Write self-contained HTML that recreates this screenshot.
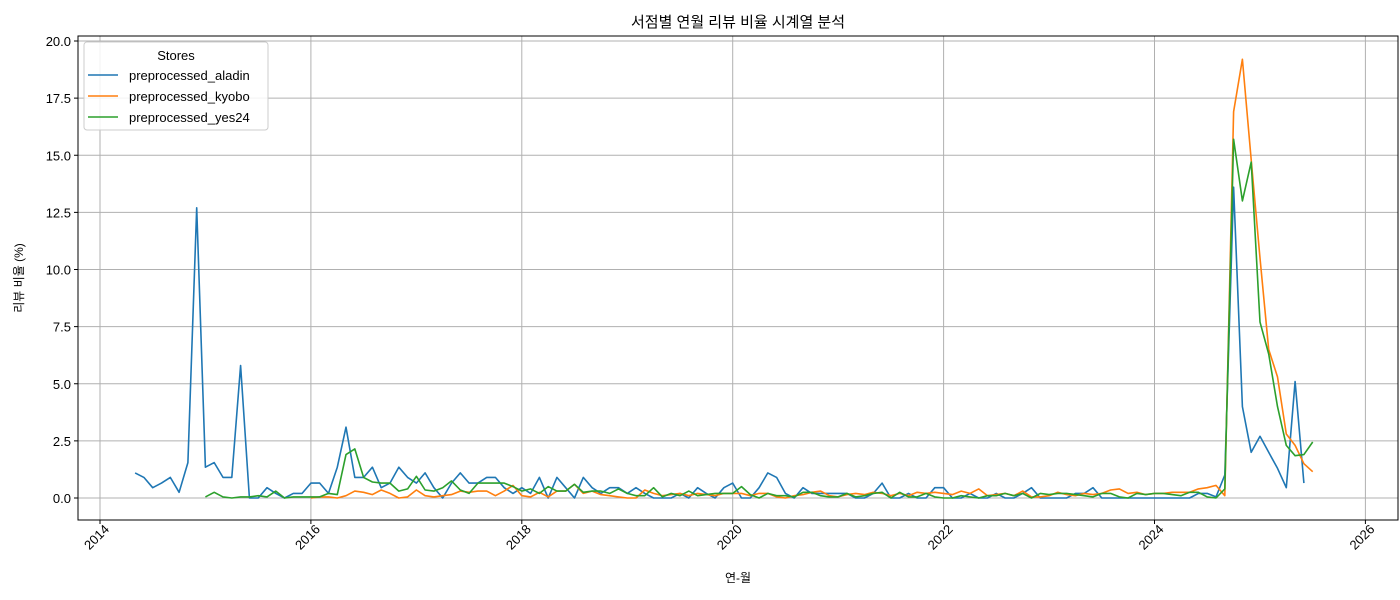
<!DOCTYPE html>
<html><head><meta charset="utf-8">
<style>
html,body{margin:0;padding:0;background:#fff;width:1400px;height:600px;overflow:hidden}
svg{display:block;font-family:"Liberation Sans","Noto Sans CJK KR",sans-serif}
</style></head>
<body>
<svg id="chart" width="1400" height="600"></svg>
<script>
const seriesNames = ["preprocessed_aladin","preprocessed_kyobo","preprocessed_yes24"];
const seriesColors = ["#1f77b4","#ff7f0e","#2ca02c"];
const aladinStart = [2014,4];
const kyoboStart = [2016,0];
const yes24Start = [2015,0];
const aladinValues = [1.1,0.9,0.45,0.65,0.9,0.25,1.55,12.7,1.35,1.55,0.9,0.9,5.8,0,0,0.45,0.2,0,0.2,0.2,
0.65,0.65,0.2,1.35,3.1,0.9,0.9,1.35,0.45,0.65,1.35,0.9,
0.65,1.1,0.45,0,0.65,1.1,0.65,0.65,0.9,0.9,0.45,0.2,
0.45,0.2,0.9,0,0.9,0.45,0,0.9,0.45,0.2,0.45,0.45,
0.2,0.45,0.2,0,0,0,0.2,0,0.45,0.2,0,0.45,
0.65,0,0,0.45,1.1,0.9,0.2,0,0.45,0.2,0.2,0.2,
0.2,0.2,0,0,0.2,0.65,0,0,0.2,0,0,0.45,
0.45,0,0,0.2,0,0,0.2,0,0,0.2,0.45,0,
0,0,0,0.2,0.2,0.45,0,0,0,0,0,0,
0,0,0,0,0,0.2,0.2,0.05,1.0,13.6,4.0,2.0,
2.7,2.0,1.3,0.45,5.1,0.65];
const kyoboValues = [0,0.05,0.05,0,0.1,0.3,0.25,0.15,0.35,0.2,0,0.05,
0.35,0.1,0.05,0.1,0.15,0.3,0.25,0.3,0.3,0.1,0.3,0.55,
0.1,0.05,0.25,0.05,0.3,0.3,0.6,0.2,0.3,0.15,0.1,0.05,
0,0,0.35,0.2,0.1,0.15,0.2,0.1,0.2,0.15,0.1,0.2,
0.2,0.2,0.1,0.2,0.2,0.05,0,0.1,0.15,0.25,0.3,0.1,
0.05,0.15,0.2,0.15,0.25,0.2,0.1,0.2,0.1,0.25,0.2,0.25,
0.2,0.15,0.3,0.2,0.4,0.1,0.15,0.2,0.1,0.3,0.05,0.05,
0.1,0.25,0.15,0.1,0.2,0.15,0.2,0.35,0.4,0.2,0.25,0.15,
0.2,0.2,0.25,0.25,0.25,0.4,0.45,0.55,0.1,
16.9,19.2,14.8,10.5,6.5,5.3,2.8,2.3,1.5,1.15];
const yes24Values = [0.05,0.25,0.05,0,0.05,0.05,0.1,0.05,0.3,0,0.05,0.05,
0.05,0.05,0.2,0.15,1.9,2.15,0.9,0.7,0.65,0.65,0.3,0.4,
0.95,0.35,0.3,0.45,0.75,0.35,0.2,0.65,0.65,0.65,0.65,0.5,
0.3,0.4,0.2,0.5,0.3,0.3,0.6,0.25,0.3,0.3,0.2,0.4,
0.2,0.1,0.1,0.45,0.05,0.2,0.1,0.3,0.1,0.15,0.2,0.2,
0.2,0.5,0.15,0,0.2,0.1,0.1,0.05,0.25,0.25,0.1,0.05,
0.05,0.2,0.05,0.1,0.2,0.25,0,0.25,0.05,0.05,0.2,0.05,
0,0,0.1,0.05,0,0.1,0.1,0.2,0.1,0.2,0,0.2,
0.15,0.2,0.2,0.15,0.1,0.05,0.2,0.2,0.05,0,0.2,0.15,
0.2,0.2,0.15,0.1,0.25,0.25,0.05,0,0.4,
15.7,13.0,14.7,7.7,6.3,4.0,2.3,1.85,1.9,2.45];
const xTickLabels = ["2014","2016","2018","2020","2022","2024","2026"];
const yTickLabels = ["0.0","2.5","5.0","7.5","10.0","12.5","15.0","17.5","20.0"];

const NS="http://www.w3.org/2000/svg";
const svg=document.getElementById('chart');
const L=78,R=1398,T=36,B=520;
function xScale(yr){return 100+(yr-2014)*105.45;}
function yScale(v){return 498-v*22.85;}
function mk(tag,attrs,parent){const e=document.createElementNS(NS,tag);for(const k in attrs)e.setAttribute(k,attrs[k]);(parent||svg).appendChild(e);return e;}
xTickLabels.forEach(t=>{const x=xScale(+t);
 const g=mk('line',{x1:x,x2:x,y1:T,y2:B,stroke:'#b0b0b0','stroke-width':1});
 
 
 mk('line',{x1:x,x2:x,y1:B,y2:B+4,stroke:'#000'});
 const tx=mk('text',{x:0,y:0,'font-size':13,'text-anchor':'end',transform:`translate(${x+10},${B+10}) rotate(-45)`});
 tx.textContent=t;
 
 
});
yTickLabels.forEach(t=>{const y=yScale(+t);
 const g=mk('line',{x1:L,x2:R,y1:y,y2:y,stroke:'#b0b0b0','stroke-width':1});
 
 
 mk('line',{x1:L-4,x2:L,y1:y,y2:y,stroke:'#000'});
 const tx=mk('text',{x:L-7,y:y+5,'font-size':13,'text-anchor':'end'});
 tx.textContent=t;
 
 
});
const allSeries=[[aladinStart,aladinValues],[kyoboStart,kyoboValues],[yes24Start,yes24Values]];
allSeries.forEach((s,i)=>{
 const st=s[0];
 const pts=s[1].map((v,j)=>{const yr=st[0]+(st[1]+j)/12;return xScale(yr).toFixed(1)+','+yScale(v).toFixed(1);}).join(' ');
 const p=mk('polyline',{points:pts,fill:'none',stroke:seriesColors[i],'stroke-width':1.6,'stroke-linejoin':'round'});
 
 
});
const fr=mk('rect',{x:L,y:T,width:R-L,height:B-T,fill:'none',stroke:'#000','stroke-width':1});


const lg=mk('g',{});


mk('rect',{x:84,y:42,width:184,height:88,rx:3,fill:'#fff','fill-opacity':0.85,stroke:'#ccc'},lg);
const lt=mk('text',{x:176,y:60,'font-size':13,'text-anchor':'middle'},lg);lt.textContent='Stores';
seriesNames.forEach((n,i)=>{const y=75+i*21;
 const e=mk('g',{},lg);
 
 
 mk('line',{x1:88,x2:118,y1:y,y2:y,stroke:seriesColors[i],'stroke-width':1.6},e);
 const t=mk('text',{x:129,y:y+5,'font-size':13},e);t.textContent=n;});
const title=mk('text',{x:738,y:27,'font-size':15,'text-anchor':'middle'});title.textContent='서점별 연월 리뷰 비율 시계열 분석';


const xt=mk('text',{x:738,y:582,'font-size':12,'text-anchor':'middle'});xt.textContent='연-월';


const yt=mk('text',{x:0,y:0,'font-size':12,'text-anchor':'middle',transform:'translate(23,278) rotate(-90)'});yt.textContent='리뷰 비율 (%)';


</script>
</body></html>
